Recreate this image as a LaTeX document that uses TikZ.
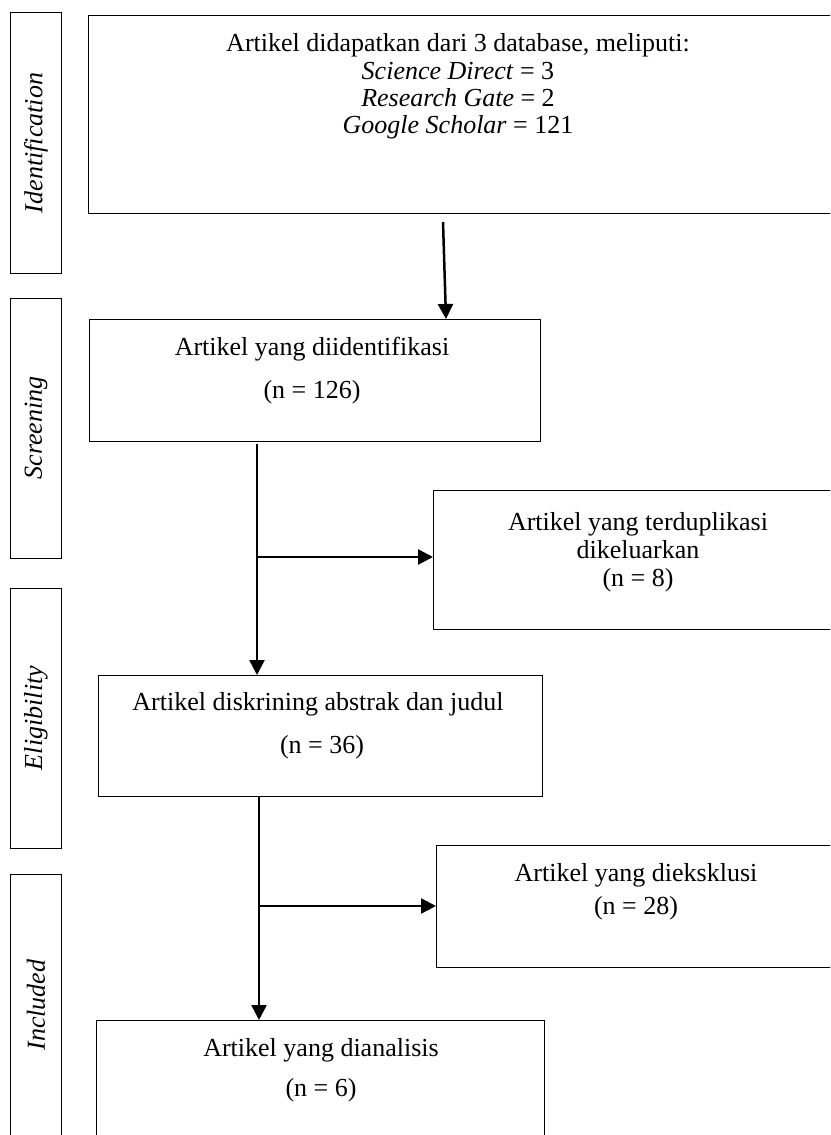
\documentclass[tikz,border=0pt]{standalone}
\usepackage{fontspec}
\setmainfont{Liberation Serif}
\usetikzlibrary{arrows.meta}
\begin{document}
\begin{tikzpicture}[x=1pt,y=-1pt,
  box/.style={draw, line width=1pt, anchor=north west, inner sep=0pt},
  flow/.style={line width=2.5pt, -{Triangle[width=15pt,length=15pt]}},
  txt/.style={font=\fontsize{26}{30}\selectfont, anchor=base, inner sep=0pt},
  stxt/.style={font=\fontsize{26}{30}\selectfont\itshape, rotate=90, inner sep=0pt}]
\useasboundingbox (0,0) rectangle (830,1135);
\clip (0,0) rectangle (830,1135);
% side stage boxes
\node[box, minimum width=51pt, minimum height=261pt] (sid) at (10,12) {};
\node[box, minimum width=51pt, minimum height=260pt] (sscr) at (10,298) {};
\node[box, minimum width=51pt, minimum height=260pt] (selig) at (10,588) {};
\node[box, minimum width=51pt, minimum height=290pt] (sinc) at (10,874) {};
\node[stxt] (tid) at (36,143) {Identification};
\node[stxt] (tscr) at (36,428) {Screening};
\node[stxt] (telig) at (36,718) {Eligibility};
\node[stxt] (tinc) at (36,1005) {Included};
% main boxes
\node[box, minimum width=760pt, minimum height=198pt] (top) at (88,15) {};
\node[box, minimum width=451pt, minimum height=122pt] (scr) at (89,319) {};
\node[box, minimum width=420pt, minimum height=139pt] (dup) at (433,490) {};
\node[box, minimum width=444pt, minimum height=121pt] (elig) at (98,675) {};
\node[box, minimum width=420pt, minimum height=122pt] (exc) at (436,845) {};
\node[box, minimum width=448pt, minimum height=140pt] (fin) at (96,1020) {};
% texts
\node[txt] (t1a) at (458,51) {Artikel didapatkan dari 3 database, meliputi:};
\node[txt] (t1b) at (458,79) {\textit{Science Direct} = 3};
\node[txt] (t1c) at (458,106) {\textit{Research Gate} = 2};
\node[txt] (t1d) at (458,133) {\textit{Google Scholar} = 121};
\node[txt] (t2a) at (312,355) {Artikel yang diidentifikasi};
\node[txt] (t2b) at (312,398) {(n = 126)};
\node[txt] (t3a) at (638,530) {Artikel yang terduplikasi};
\node[txt] (t3b) at (638,558) {dikeluarkan};
\node[txt] (t3c) at (638,586) {(n = 8)};
\node[txt] (t4a) at (318,710) {Artikel diskrining abstrak dan judul};
\node[txt] (t4b) at (322,753) {(n = 36)};
\node[txt] (t5a) at (636,881) {Artikel yang dieksklusi};
\node[txt] (t5b) at (636,914) {(n = 28)};
\node[txt] (t6a) at (321,1056) {Artikel yang dianalisis};
\node[txt] (t6b) at (321,1096) {(n = 6)};
% connectors
\coordinate (a1) at (443,222);
\draw[flow] (a1) -- ([xshift=357pt]scr.north west);
\coordinate (a2) at (257,444);
\draw[flow] (a2) -- (a2 |- elig.north);
\coordinate (b1) at (257,557);
\draw[flow] (b1) -- (b1 -| dup.west);
\coordinate (a3) at (259,796);
\draw[flow] (a3) -- (a3 |- fin.north);
\coordinate (b2) at (259,906);
\draw[flow] (b2) -- (b2 -| exc.west);
\end{tikzpicture}
\end{document}
